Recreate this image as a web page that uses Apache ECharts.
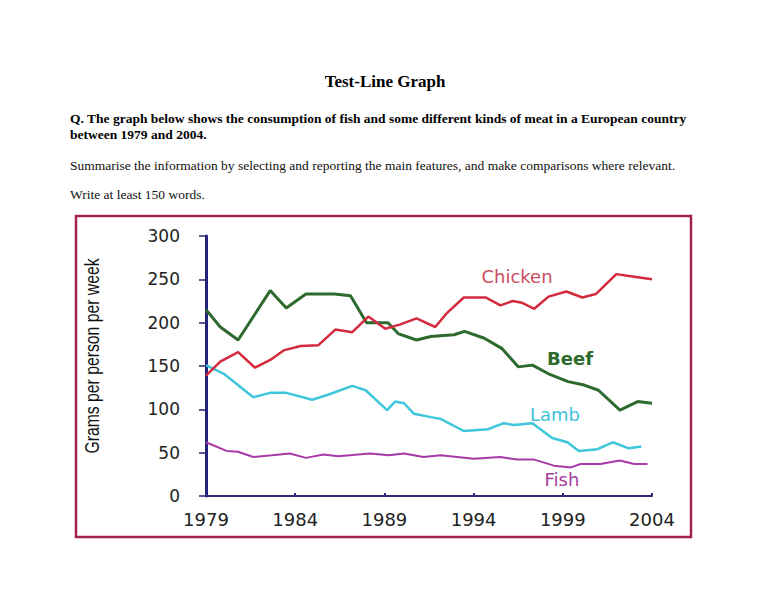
<!DOCTYPE html>
<html>
<head>
<meta charset="utf-8">
<script src="https://cdn.jsdelivr.net/npm/echarts@6/dist/echarts.min.js"></script>
<style>
html,body{margin:0;padding:0;background:#fff;}
#c{width:768px;height:594px;}
</style>
</head>
<body>
<div id="c"></div>
<script>
// ---- data ----
var xTicks = [1979, 1984, 1989, 1994, 1999, 2004];
var yTicks = [0, 50, 100, 150, 200, 250, 300];

var beefYears  = [1979,1979.8,1980.8,1982.6,1983.5,1984.6,1986.2,1987.1,1988,1989.2,1989.8,1990.8,1991.6,1992.9,1993.5,1994.6,1995.6,1996.5,1997.3,1998.2,1999.3,2000.2,2001,2002.2,2003.2,2004];
var beefGrams  = [215,195,180,237,217,233,233,231,200,200,187,180,184,186,190,182,170,149,151,141,132,128,122,99,109,107];

var chickenYears = [1979,1979.8,1980.8,1981.75,1982.6,1983.35,1984.3,1985.3,1986.25,1987.2,1988.1,1989.05,1989.9,1990.8,1991.85,1992.5,1993.45,1994.7,1995.5,1996.2,1996.7,1997.4,1998.2,1999.2,2000.1,2000.85,2002,2003,2004];
var chickenGrams = [139,155,166,148,157,168,173,174,192,189,207,193,198,205,195,211,229,229,220,225,223,216,230,236,229,233,256,253,250];

var lambYears = [1979,1980,1981.65,1982.6,1983.5,1984.95,1986,1987.2,1987.95,1989.15,1989.6,1990.1,1990.65,1991.6,1992.15,1993.45,1994.8,1995.7,1996.25,1997.3,1998.4,1999.26,1999.9,2000.95,2001.8,2002.7,2003.4];
var lambGrams = [151,141,114,119,119,111,118,127,122,99,109,107,95,91,89,75,77,84,82,84,67,62,52,54,62,55,57];

var fishYears = [1979,1980.15,1980.8,1981.65,1982.7,1983.7,1984.6,1985.6,1986.4,1988.2,1989.25,1990.1,1991.2,1992.15,1994,1995.5,1996.45,1997.4,1998.5,1999.45,2000,2001.1,2002.2,2003,2003.75];
var fishGrams = [62,52,51,45,47,49,44,48,46,49,47,49,45,47,43,45,42,42,35,33,37,37,41,37,37];

var seriesNames = ['Chicken', 'Beef', 'Lamb', 'Fish'];

function pairs(xs, ys){ return xs.map(function(x,i){ return [x, ys[i]]; }); }

var chart = echarts.init(document.getElementById('c'), null, {renderer:'svg'});
var serif = '"Liberation Serif","Times New Roman",serif';
var sans = '"DejaVu Sans",sans-serif';

chart.setOption({
  animation: false,
  backgroundColor: '#fff',
  grid: {left: 206, right: 116, top: 236, bottom: 98, containLabel: false},
  xAxis: {
    type: 'value', min: xTicks[0], max: xTicks[xTicks.length-1], interval: 5,
    axisLine: {lineStyle: {color: '#2b2b7a', width: 2}},
    axisTick: {inside: true, length: 3, lineStyle: {color: '#2b2b7a', width: 2}},
    splitLine: {show: false},
    axisLabel: {color: '#222', fontFamily: sans, fontSize: 18, margin: 14,
      formatter: function(v){ return String(v); }}
  },
  yAxis: {
    type: 'value', min: yTicks[0], max: yTicks[yTicks.length-1], interval: 50,
    axisLine: {show: true, lineStyle: {color: '#23237a', width: 3}},
    axisTick: {show: true, length: 7, lineStyle: {color: '#23237a', width: 1.5}},
    splitLine: {show: false},
    axisLabel: {color: '#222', fontFamily: sans, fontSize: 17, margin: 26}
  },
  series: [
    {name: seriesNames[0], type: 'line', data: pairs(chickenYears, chickenGrams), symbol: 'none',
      lineStyle: {color: '#d42a3e', width: 2.5}, z: 3},
    {name: seriesNames[1], type: 'line', data: pairs(beefYears, beefGrams), symbol: 'none',
      lineStyle: {color: '#2d6a2d', width: 3}, z: 2},
    {name: seriesNames[2], type: 'line', data: pairs(lambYears, lambGrams), symbol: 'none',
      lineStyle: {color: '#3ec6da', width: 2.5}, z: 2},
    {name: seriesNames[3], type: 'line', data: pairs(fishYears, fishGrams), symbol: 'none',
      lineStyle: {color: '#a83aa8', width: 2}, z: 2}
  ],
  graphic: [
    {type: 'rect', shape: {x: 76, y: 216, width: 615, height: 321}, silent: true,
      style: {fill: 'none', stroke: '#a3214f', lineWidth: 2.5}, z: 0},
    {type: 'text', x: 385, y: 81, style: {text: 'Test-Line Graph', fontFamily: serif, fontWeight: 'bold', fontSize: 17, fill: '#000', align: 'center', verticalAlign: 'middle'}},
    {type: 'text', x: 70, y: 118, style: {text: 'Q. The graph below shows the consumption of fish and some different kinds of meat in a European country', fontFamily: serif, fontWeight: 'bold', fontSize: 13.5, fill: '#000', align: 'left', verticalAlign: 'middle'}},
    {type: 'text', x: 70, y: 134, style: {text: 'between 1979 and 2004.', fontFamily: serif, fontWeight: 'bold', fontSize: 13.5, fill: '#000', align: 'left', verticalAlign: 'middle'}},
    {type: 'text', x: 70, y: 165, style: {text: 'Summarise the information by selecting and reporting the main features, and make comparisons where relevant.', fontFamily: serif, fontSize: 13.5, fill: '#111', align: 'left', verticalAlign: 'middle'}},
    {type: 'text', x: 70, y: 194, style: {text: 'Write at least 150 words.', fontFamily: serif, fontSize: 13.5, fill: '#111', align: 'left', verticalAlign: 'middle'}},
    {type: 'text', x: 92, y: 356, rotation: Math.PI/2, scaleX: 0.75, style: {text: 'Grams per person per week', fontFamily: '"Liberation Sans",sans-serif', fontSize: 21, fill: '#111', align: 'center', verticalAlign: 'middle'}},
    {type: 'text', x: 517, y: 276, style: {text: seriesNames[0], fontFamily: sans, fontSize: 18, fill: '#cc4c5e', align: 'center', verticalAlign: 'middle'}},
    {type: 'text', x: 570, y: 358, style: {text: seriesNames[1], fontFamily: sans, fontSize: 18, fontWeight: 'bold', fill: '#2d6a2d', align: 'center', verticalAlign: 'middle'}},
    {type: 'text', x: 555, y: 414, style: {text: seriesNames[2], fontFamily: sans, fontSize: 18, fill: '#3fc2d6', align: 'center', verticalAlign: 'middle'}},
    {type: 'text', x: 562, y: 479, style: {text: seriesNames[3], fontFamily: sans, fontSize: 18, fill: '#a3409f', align: 'center', verticalAlign: 'middle'}}
  ]
});
</script>
</body>
</html>
